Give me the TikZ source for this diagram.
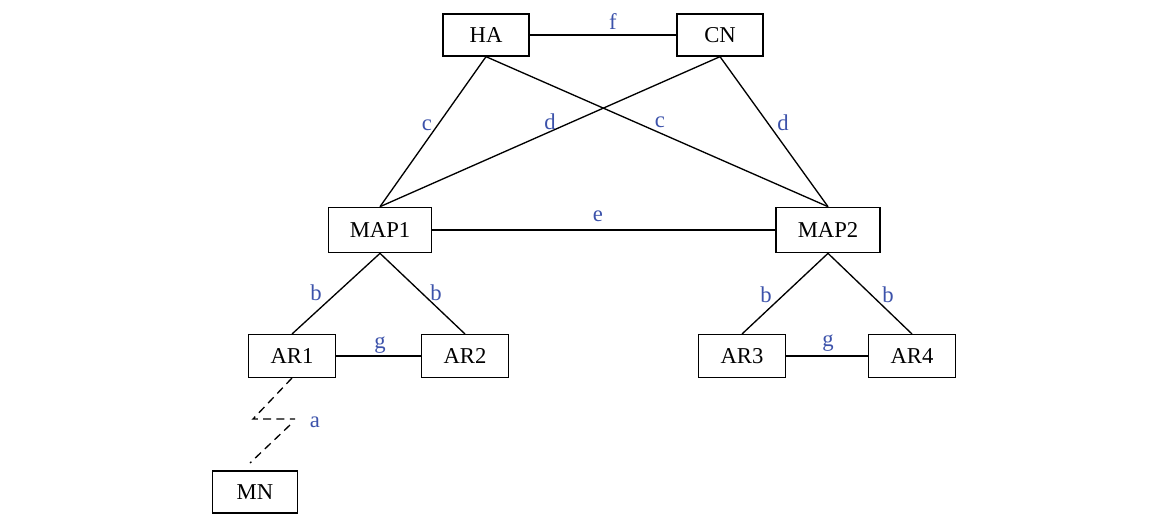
\documentclass[tikz,border=0pt]{standalone}
\usepackage{fontspec}
\setmainfont{Liberation Serif}
\definecolor{lblblue}{RGB}{60,82,170}
\begin{document}
\begin{tikzpicture}[x=0.75pt,y=-0.75pt,
  box/.style={draw,line width=1pt,inner sep=0pt,font=\fontsize{17}{20}\selectfont},
  lbl/.style={text=lblblue,inner sep=0pt,font=\fontsize{17}{20}\selectfont},
  link/.style={line width=1pt},
  wless/.style={line width=1pt,dash pattern=on 6pt off 4pt}]
\useasboundingbox (0,0) rectangle (1151,514);
\node[box,minimum width=64.5pt,minimum height=31.5pt] (HA) at (486,35) {HA};
\node[box,minimum width=64.5pt,minimum height=31.5pt] (CN) at (720,35) {CN};
\node[box,minimum width=77pt,minimum height=34pt] (MAP1) at (380,230) {MAP1};
\node[box,minimum width=78pt,minimum height=34pt] (MAP2) at (828,230) {MAP2};
\node[box,minimum width=65pt,minimum height=32pt] (AR1) at (292,356) {AR1};
\node[box,minimum width=65pt,minimum height=32pt] (AR2) at (465,356) {AR2};
\node[box,minimum width=65pt,minimum height=32pt] (AR3) at (742,356) {AR3};
\node[box,minimum width=65pt,minimum height=32pt] (AR4) at (912,356) {AR4};
\node[box,minimum width=64pt,minimum height=31.5pt] (MN) at (255,492) {MN};
\draw[link] (HA) -- (CN);
\draw[link] (MAP1) -- (MAP2);
\draw[link] (AR1) -- (AR2);
\draw[link] (AR3) -- (AR4);
\draw[link] (HA.south) -- (MAP1.north);
\draw[link] (HA.south) -- (MAP2.north);
\draw[link] (CN.south) -- (MAP1.north);
\draw[link] (CN.south) -- (MAP2.north);
\draw[link] (MAP1.south) -- (AR1.north);
\draw[link] (MAP1.south) -- (AR2.north);
\draw[link] (MAP2.south) -- (AR3.north);
\draw[link] (MAP2.south) -- (AR4.north);
\coordinate (z1) at (253,419);
\coordinate (z2) at (295,419);
\coordinate (z3) at (290,425);
\coordinate (z4) at (250,463);
\draw[wless] (AR1.south) -- (z1) -- (z2);
\draw[wless] (z3) -- (z4);
\node[lbl] (lf) at (613,22) {f};
\node[lbl] (le) at (598,216) {e};
\node[lbl] (lg1) at (380,345) {g};
\node[lbl] (lg2) at (828,343) {g};
\node[lbl] (lc1) at (427,125) {c};
\node[lbl] (ld1) at (550,122) {d};
\node[lbl] (lc2) at (660,122) {c};
\node[lbl] (ld2) at (783,123) {d};
\node[lbl] (lb1) at (316,293) {b};
\node[lbl] (lb2) at (436,293) {b};
\node[lbl] (lb3) at (766,295) {b};
\node[lbl] (lb4) at (888,295) {b};
\node[lbl] (la) at (315,422) {a};
\end{tikzpicture}
\end{document}
